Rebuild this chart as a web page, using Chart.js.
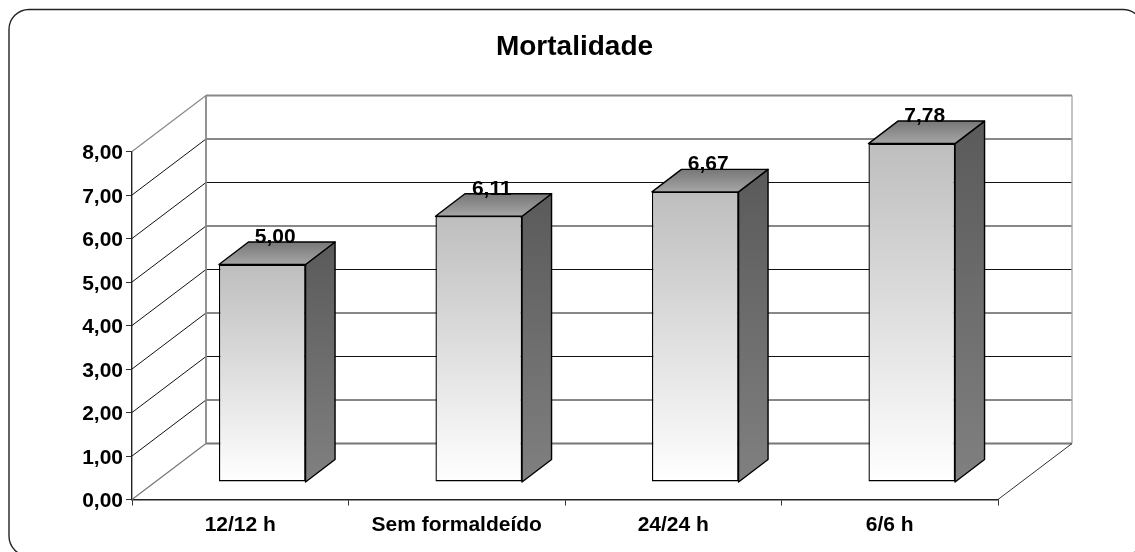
<!DOCTYPE html>
<html><head><meta charset="utf-8">
<style>html,body{margin:0;padding:0;background:#fff}#w{position:relative;width:1135px;height:552px}canvas{display:block}</style>
<script src="https://cdn.jsdelivr.net/npm/chart.js@4"></script>
</head><body><div id="w"><canvas id="c" width="1135" height="552"></canvas></div>
<script>
const categories = ["12/12 h","Sem formaldeído","24/24 h","6/6 h"];
const values = [5.00,6.11,6.67,7.78];
const valueLabels = ["5,00","6,11","6,67","7,78"];
const chartTitle = "Mortalidade";
const FONT = '"Liberation Sans", Arial, sans-serif';
const WALL = {dx:74, dy:56};
const BAR = {dx:22, dy:17.5, depthX:29.5, depthY:22.5};

function vGrad(ctx,y0,y1,stops){const g=ctx.createLinearGradient(0,y0,0,y1);stops.forEach((s,i)=>g.addColorStop(i/(stops.length-1),s));return g;}
function poly(ctx,pts,fill,stroke,lw){ctx.beginPath();pts.forEach((p,i)=>i?ctx.lineTo(p[0],p[1]):ctx.moveTo(p[0],p[1]));ctx.closePath();if(fill){ctx.fillStyle=fill;ctx.fill();}if(stroke){ctx.strokeStyle=stroke;ctx.lineWidth=lw||1;ctx.lineJoin='round';ctx.stroke();}}
function line(ctx,a,b,c,w){ctx.beginPath();ctx.moveTo(a[0],a[1]);ctx.lineTo(b[0],b[1]);ctx.strokeStyle=c;ctx.lineWidth=w;ctx.stroke();}

const frame = {id:'frame',beforeDraw(ch){const c=ch.ctx;c.save();c.fillStyle='#fff';c.fillRect(0,0,ch.width,ch.height);
  c.beginPath();c.roundRect(9,9.5,1134,546.5,20);c.strokeStyle='#222';c.lineWidth=1.4;c.stroke();
  c.fillStyle='#000';c.font='bold 28px '+FONT;c.textAlign='center';c.textBaseline='alphabetic';c.fillText(chartTitle,574.5,55);
  c.restore();}};

const walls = {id:'walls',beforeDatasetsDraw(ch){const c=ch.ctx,x=ch.scales.x,y=ch.scales.y,L=x.left,R=x.right;c.save();
  const ticks=y.ticks.map(t=>t.value),top=Math.max(...ticks);
  ticks.forEach(v=>{const p=y.getPixelForValue(v);
    if(v>0&&v<top){line(c,[L,p],[L+WALL.dx,p-WALL.dy],'#111',1);line(c,[L+WALL.dx,p-WALL.dy],[R+WALL.dx,p-WALL.dy],'#111',1);}
  });
  const t=y.getPixelForValue(top),b=y.getPixelForValue(0);
  line(c,[L,t],[L+WALL.dx,t-WALL.dy],'#888',1.2);
  line(c,[L,b],[L+WALL.dx,b-WALL.dy],'#777',1.2);
  line(c,[L+WALL.dx,t-WALL.dy],[R+WALL.dx,t-WALL.dy],'#888',1.8);
  line(c,[L+WALL.dx,b-WALL.dy],[R+WALL.dx,b-WALL.dy],'#777',1.8);
  line(c,[L+WALL.dx,t-WALL.dy],[L+WALL.dx,b-WALL.dy],'#888',1.8);
  line(c,[R+WALL.dx,t-WALL.dy],[R+WALL.dx,b-WALL.dy],'#aaa',1.4);
  line(c,[R,b],[R+WALL.dx,b-WALL.dy],'#333',1);
  c.restore();}};

const bars3d = {id:'bars3d',
  beforeDatasetDraw(ch){ch.ctx.save();ch.ctx.translate(BAR.dx,-BAR.dy);},
  afterDatasetDraw(ch,args){const c=ch.ctx,y=ch.scales.y;
    args.meta.data.forEach(el=>{const l=el.x-el.width/2,r=el.x+el.width/2,t=el.y,b=y.getPixelForValue(0),dx=BAR.depthX,dy=BAR.depthY;
      poly(c,[[r,t],[r+dx,t-dy],[r+dx,b-dy],[r,b]],vGrad(c,t-dy,b,['#5a5a5a','#808080']),'#000',1.4);
      poly(c,[[l,t],[r,t],[r+dx,t-dy],[l+dx,t-dy]],vGrad(c,t-dy,t,['#777','#a6a6a6']),'#000',1.4);
    });
    c.restore();
    c.save();c.fillStyle='#000';c.font='bold 21px '+FONT;c.textAlign='center';c.textBaseline='alphabetic';
    args.meta.data.forEach((el,i)=>{c.fillText(valueLabels[i],el.x+BAR.dx+13,el.y-BAR.dy-21.5);});
    c.restore();}};

new Chart(document.getElementById('c'),{
  type:'bar',
  data:{labels:categories,datasets:[{data:values,barPercentage:0.4,categoryPercentage:1,borderColor:'#000',borderWidth:1.4,borderSkipped:false,
    backgroundColor(ctx){const s=ctx.chart.scales.y;const a=s&&s.getPixelForValue(ctx.raw),b=s&&s.getPixelForValue(0);
      if(!Number.isFinite(a)||!Number.isFinite(b))return '#ccc';
      return vGrad(ctx.chart.ctx,a,b,['#bebebe','#ffffff']);}}]},
  plugins:[frame,walls,bars3d],
  options:{responsive:false,animation:false,events:[],
    layout:{padding:{left:0,right:137,top:151.5,bottom:0}},
    plugins:{legend:{display:false},tooltip:{enabled:false},title:{display:false}},
    scales:{
      x:{afterFit(s){s.height=52.5;},border:{color:'#222',width:1.4},grid:{drawOnChartArea:false,drawTicks:true,tickLength:6,color:'#333',offset:true},
        ticks:{color:'#000',font:{family:FONT,size:21,weight:'bold'},padding:7,maxRotation:0,autoSkip:false}},
      y:{afterFit(s){s.width=132;
           if(!s._shifted){s._shifted=true;const o=s._computeLabelItems;s._computeLabelItems=function(a){const it=o.call(this,a);it.forEach(i=>{i.options.translation[1]+=2;});return it;};}},
        min:0,max:8,border:{color:'#222',width:1.4},grid:{drawOnChartArea:false,drawTicks:true,tickLength:6,color:'#333'},
        ticks:{stepSize:1,color:'#000',font:{family:FONT,size:21,weight:'bold'},padding:3,callback:v=>v.toFixed(2).replace('.',',')}}
    }
  }
});
</script></body></html>
